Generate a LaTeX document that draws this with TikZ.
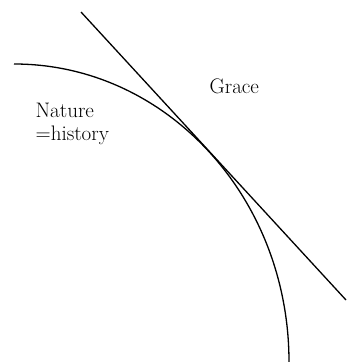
\documentclass[tikz,border=0pt]{standalone}
\begin{document}
\begin{tikzpicture}[x=1pt, y=-1pt, line width=1.3pt]
        \tikzset{lbl/.style={anchor=base west, inner sep=0pt, align=left, font=\fontsize{21}{23}\selectfont}}
        \useasboundingbox (0,0) rectangle (346,362);
        % the curve of nature and the tangent of grace
        \coordinate (cs) at (14,64);
        \coordinate (ce) at (289,362);
        \coordinate (ts) at (81,12);
        \coordinate (te) at (346,300);
        \draw (cs) .. controls (166,64) and (289,197) .. (ce);
        \draw (ts) -- (te);
        \node[lbl] (grace) at (209,93) {Grace};
        \node[lbl] (nature) at (35,140) {Nature\\=history};
    \end{tikzpicture}
\end{document}
